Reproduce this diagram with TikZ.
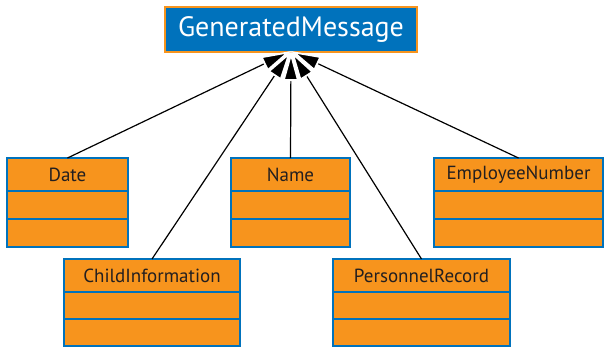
\documentclass[tikz,border=0pt]{standalone}
\usepackage{fontspec}
\setmainfont{PT Sans}
\usetikzlibrary{arrows.meta,positioning}
\definecolor{umlorange}{HTML}{F7941D}
\definecolor{umlblue}{HTML}{0072BC}
\definecolor{txtdark}{HTML}{231F20}
\begin{document}
\begin{tikzpicture}[x=1pt,y=-1pt,
  classhead/.style={draw=umlblue, fill=umlorange, line width=2pt, inner sep=0pt, outer sep=0pt,
    text=txtdark, font=\fontsize{19}{21}\selectfont, minimum height=33pt, anchor=north},
  comp/.style={draw=umlblue, fill=umlorange, line width=2pt, inner sep=0pt, outer sep=0pt,
    minimum height=28pt, anchor=north},
  genarrow/.style={draw=black, line width=1.2pt,
    -{Triangle[length=30pt,width=16pt,fill=black,color=white,line width=1.8pt]}}
]
\useasboundingbox (0,0) rectangle (605,346);

\node[draw=umlorange, fill=umlblue, line width=2pt, text=white, inner sep=0pt, outer sep=0pt,
  minimum width=252pt, minimum height=45pt, font=\fontsize{28}{32}\selectfont]
  (gm) at (291,29.5) {GeneratedMessage};

% Date
\node[classhead, minimum width=121pt] (date) at (67.5,158) {Date};
\node[comp, minimum width=121pt] (date2) at (date.south) {};
\node[comp, minimum width=121pt] (date3) at (date2.south) {};
% Name
\node[classhead, minimum width=119pt] (name) at (290.5,158) {Name};
\node[comp, minimum width=119pt] (name2) at (name.south) {};
\node[comp, minimum width=119pt] (name3) at (name2.south) {};
% EmployeeNumber
\node[classhead, minimum width=169pt] (emp) at (518.5,158) {EmployeeNumber};
\node[comp, minimum width=169pt] (emp2) at (emp.south) {};
\node[comp, minimum width=169pt] (emp3) at (emp2.south) {};
% ChildInformation
\node[classhead, minimum width=176pt] (child) at (152,259) {ChildInformation};
\node[comp, minimum width=176pt, minimum height=27pt] (child2) at (child.south) {};
\node[comp, minimum width=176pt, minimum height=27pt] (child3) at (child2.south) {};
% PersonnelRecord
\node[classhead, minimum width=177pt] (pers) at (421.5,259) {PersonnelRecord};
\node[comp, minimum width=177pt, minimum height=27pt] (pers2) at (pers.south) {};
\node[comp, minimum width=177pt, minimum height=27pt] (pers3) at (pers2.south) {};

\coordinate (tip) at ([yshift=1pt]gm.south);
\draw[genarrow] (date.north) -- (tip);
\draw[genarrow] (emp.north) -- (tip);
\draw[genarrow] (child.north) -- (tip);
\draw[genarrow] (pers.north) -- (tip);
\draw[genarrow] (name.north) -- (tip);
\end{tikzpicture}
\end{document}
